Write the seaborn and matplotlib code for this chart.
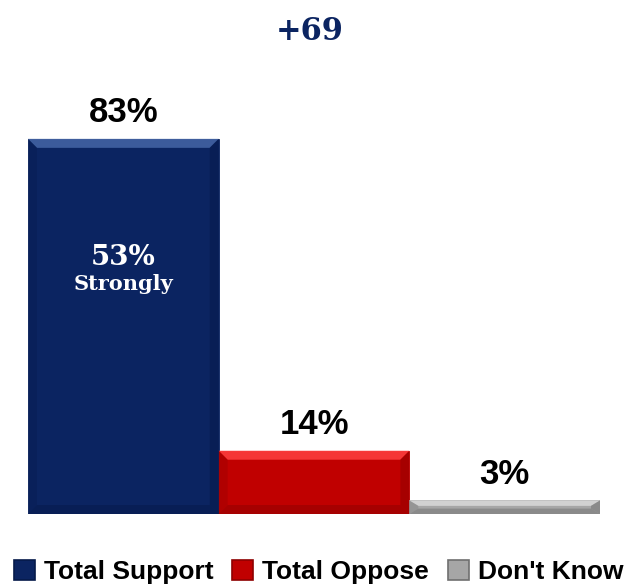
import matplotlib
matplotlib.use("Agg")
import matplotlib.pyplot as plt
from matplotlib.patches import Polygon, Patch
import seaborn as sns
import pandas as pd

# data
categories = ["Total Support", "Total Oppose", "Don't Know"]
values = [83, 14, 3]
strongly_support = 53
bar_colors = ["#0b2461", "#c00000", "#a6a6a6"]
light_colors = ["#4566a6", "#ff4040", "#d9d9d9"]
dark_colors = ["#061a4a", "#8e0000", "#6f6f6f"]

sns.set_theme(style="white")
plt.rcParams['font.family'] = ['Liberation Sans', 'DejaVu Sans']

df = pd.DataFrame({"category": categories, "value": values})

fig = plt.figure(figsize=(6.27, 5.88), dpi=100)
ax = fig.add_axes([28/627, 74/588, 572/627, 452/588])

sns.barplot(data=df, x="category", y="value", hue="category", order=categories,
            palette=bar_colors, width=1.0, legend=False, ax=ax, saturation=1)
ax.set_xlim(-0.5, 2.5)
ax.set_ylim(0, 100)
ax.axis("off")

# bevel look on each bar
px_x = 3 / 572   # data units per pixel
px_y = 100 / 452
for p, lc, dc in zip(ax.patches, light_colors, dark_colors):
    p.set_edgecolor(p.get_facecolor())
    p.set_linewidth(0.6)
    x0, y0 = p.get_x(), p.get_y()
    w, h = p.get_width(), p.get_height()
    bx = 9 * px_x
    by = min(9 * px_y, h / 2.5)
    x1, y1 = x0 + w, y0 + h
    ax.add_patch(Polygon([(x0, y1), (x1, y1), (x1 - bx, y1 - by), (x0 + bx, y1 - by)],
                         closed=True, facecolor=lc, edgecolor="none", alpha=0.85))
    ax.add_patch(Polygon([(x1, y1), (x1, y0), (x1 - bx, y0 + by), (x1 - bx, y1 - by)],
                         closed=True, facecolor=dc, edgecolor="none", alpha=0.5))
    ax.add_patch(Polygon([(x0, y1), (x0, y0), (x0 + bx, y0 + by), (x0 + bx, y1 - by)],
                         closed=True, facecolor=dc, edgecolor="none", alpha=0.3))
    ax.add_patch(Polygon([(x0, y0), (x1, y0), (x1 - bx, y0 + by), (x0 + bx, y0 + by)],
                         closed=True, facecolor=dc, edgecolor="none", alpha=0.5))

# value labels
for i, v in enumerate(values):
    ax.annotate(f"{v}%", xy=(i, v), xytext=(0, 12), textcoords="offset points",
                ha="center", va="baseline", fontsize=25, fontweight="bold", color="black")

# strongly label
ax.annotate(f"{strongly_support}%", xy=(0, strongly_support), xytext=(0, 7),
            textcoords="offset points", ha="center", va="baseline",
            fontsize=20, fontweight="bold", color="white", family="DejaVu Serif")
ax.annotate("Strongly", xy=(0, strongly_support), xytext=(0, -11),
            textcoords="offset points", ha="center", va="baseline",
            fontsize=15, fontweight="bold", color="white", family="DejaVu Serif")

# net margin
fig.text(310/627, 1 - 40/588, f"+{values[0] - values[1]}", ha="center", va="baseline",
         fontsize=22, fontweight="bold", color="#0b2461", family="DejaVu Serif")

handles = [Patch(facecolor=c, edgecolor=d, linewidth=1.2) for c, d in zip(bar_colors, dark_colors)]
fig.legend(handles, categories, loc="center", bbox_to_anchor=(0.508, 1 - 572/588),
           ncol=3, frameon=False, handlelength=0.8, handleheight=0.8,
           handletextpad=0.35, columnspacing=0.7, borderaxespad=0, labelcolor="black",
           prop={"family": "Liberation Sans", "weight": "bold", "size": 19})

fig.savefig("out.png", dpi=100)
